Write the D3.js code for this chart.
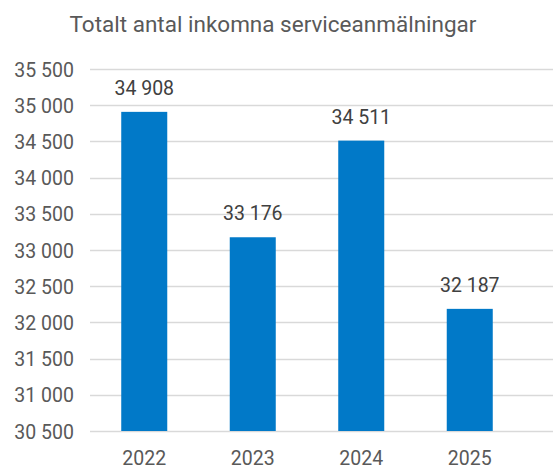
<!DOCTYPE html>
<html>
<head>
<meta charset="utf-8">
<script src="https://cdn.jsdelivr.net/npm/d3@7"></script>
<style>
  body { margin: 0; background: #fff; }
  text { font-family: Roboto, "Noto Sans", sans-serif; }
</style>
</head>
<body>
<div id="chart"></div>
<script>
// data
var years = ["2022", "2023", "2024", "2025"];
var values = [34908, 33176, 34511, 32187];
var yTicks = [30500, 31000, 31500, 32000, 32500, 33000, 33500, 34000, 34500, 35000, 35500];
var title = "Totalt antal inkomna serviceanmälningar";

var w = 557, h = 471;
var plotLeft = 90, plotRight = 524, plotTop = 69, plotBottom = 431;

var fmt = function(v) {
  return d3.format(",")(v).replace(/,/g, " ");
};

var svg = d3.select("#chart").append("svg")
  .attr("width", w)
  .attr("height", h);

var x = d3.scaleBand().domain(years).range([plotLeft, plotRight]).paddingInner(0.576).paddingOuter(0.288);
var y = d3.scaleLinear().domain([30500, 35500]).range([plotBottom, plotTop]);

// gridlines
svg.append("g")
  .selectAll("line")
  .data(yTicks)
  .enter()
  .append("line")
  .attr("x1", plotLeft)
  .attr("x2", 553)
  .attr("y1", d => Math.round(y(d)) + 0.5)
  .attr("y2", d => Math.round(y(d)) + 0.5)
  .attr("stroke", "#d9d9d9")
  .attr("stroke-width", 1.5);

// y axis labels
var yAxis = d3.axisLeft(y).tickValues(yTicks).tickFormat(fmt).tickSize(0).tickPadding(0);
var ya = svg.append("g")
  .attr("transform", `translate(${74},0)`)
  .call(yAxis);
ya.select(".domain").remove();
ya.selectAll("text")
  .attr("font-size", 19.5)
  .attr("fill", "#595959")
  .attr("font-family", "Roboto")
  .attr("dy", "0.36em");

// bars
svg.selectAll("rect.bar")
  .data(values)
  .enter()
  .append("rect")
  .attr("class", "bar")
  .attr("x", (d, i) => x(years[i]))
  .attr("width", x.bandwidth())
  .attr("y", d => y(d))
  .attr("height", d => plotBottom - y(d))
  .attr("fill", "#0179c8");

// value labels
svg.selectAll("text.val")
  .data(values)
  .enter()
  .append("text")
  .attr("class", "val")
  .attr("x", (d, i) => x(years[i]) + x.bandwidth() / 2)
  .attr("y", d => y(d) - 17)
  .attr("text-anchor", "middle")
  .attr("font-size", 19.5)
  .attr("fill", "#404040")
  .text(fmt);

// x axis labels
var xAxis = d3.axisBottom(x).tickSize(0).tickPadding(0);
var xa = svg.append("g")
  .attr("transform", `translate(0,${465})`)
  .call(xAxis);
xa.select(".domain").remove();
xa.selectAll("text")
  .attr("dy", 0)
  .attr("font-size", 19.5)
  .attr("fill", "#595959")
  .attr("font-family", "Roboto");

// title
svg.append("text")
  .attr("x", 273)
  .attr("y", 32)
  .attr("text-anchor", "middle")
  .attr("font-size", 22.5)
  .attr("fill", "#595959")
  .text(title);
</script>
</body>
</html>
